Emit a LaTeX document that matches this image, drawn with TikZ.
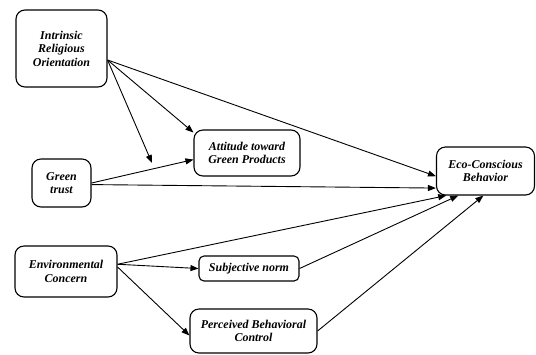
\documentclass[tikz,border=0pt]{standalone}
\usepackage{fontspec}
\setmainfont{Liberation Serif}
\usetikzlibrary{arrows.meta}
\tikzset{
  box/.style={draw, line width=1.1bp, rounded corners=9bp, align=center, inner sep=1bp,
    font=\bfseries\itshape\fontsize{12}{13.5}\selectfont},
  link/.style={line width=0.9bp, -{Triangle[length=8bp,width=6bp]}}
}
\begin{document}
\begin{tikzpicture}[x=1bp,y=-1bp]
\useasboundingbox (0,0) rectangle (536,354);
\node[box, minimum width=91bp, minimum height=77bp] (iro) at (61.5,48.5) {Intrinsic\\Religious\\Orientation};
\node[box, minimum width=106bp, minimum height=46bp] (att) at (247,153) {Attitude toward\\Green Products};
\node[box, minimum width=59bp, minimum height=48bp] (gt) at (61.5,183) {Green\\trust};
\node[box, minimum width=98bp, minimum height=48bp] (eco) at (485.5,171) {Eco-Conscious\\Behavior};
\node[box, minimum width=102bp, minimum height=51bp] (env) at (66,271.5) {Environmental\\Concern};
\node[box, rounded corners=5bp, minimum width=100bp, minimum height=25bp] (sn) at (249,268.5) {Subjective norm};
\node[box, minimum width=127bp, minimum height=44bp] (pbc) at (253.5,331) {Perceived Behavioral\\Control};
\coordinate (mod) at (152,163);
\draw[link] (iro.-14) -- (att.159);
\draw[link] (iro.-14) -- (mod);
\draw[link] (iro.-14) -- (eco.186);
\draw[link] (gt.east) -- (att.187);
\draw[link] (gt.-3) -- (eco.199);
\draw[link] (env.8) -- (eco.212);
\draw[link] (env.8) -- (sn.west);
\draw[link] (env.5) -- (pbc.184);
\draw[link] (sn.east) -- (eco.222);
\draw[link] (pbc.east) -- (eco.265);
\end{tikzpicture}
\end{document}
